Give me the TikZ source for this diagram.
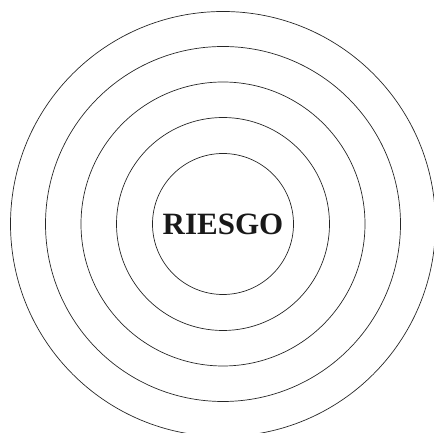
\documentclass[tikz,border=0pt]{standalone}
\usepackage{fontspec}
\setmainfont{Liberation Serif}
\usepackage{tikz}
\usetikzlibrary{positioning}

\tikzset{
    ring/.style={draw=black!85, line width=0.7pt},
    label riesgo/.style={font=\fontsize{31}{36}\selectfont\bfseries, text=black!90}
}

\begin{document}
\begin{tikzpicture}[x=1pt, y=1pt]
    % Marco de la imagen
    \useasboundingbox (0,0) rectangle (434,433);
    \clip (0,0) rectangle (434,433);
    
    % Centro y texto
    \node[label riesgo] (riesgo) at (223,209) {RIESGO};
    
    % Circulos concentricos
    \foreach \r in {70.5, 106.5, 142, 177.5, 212.5}
        \draw[ring] (riesgo.center) circle (\r);
\end{tikzpicture}
\end{document}
